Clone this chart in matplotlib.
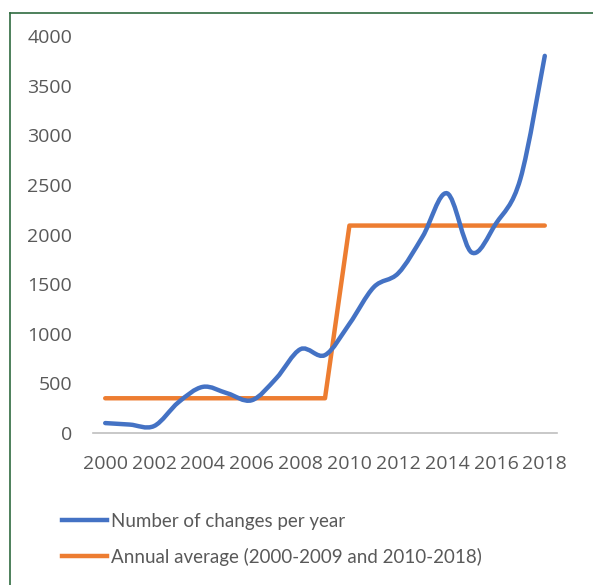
import numpy as np
import matplotlib
matplotlib.use("Agg")
import matplotlib.pyplot as plt
from matplotlib.path import Path
from matplotlib.patches import PathPatch
from matplotlib.lines import Line2D

plt.rcParams['font.family'] = ['Lato', 'DejaVu Sans']

years = list(range(2000, 2019))
changes = [100, 85, 70, 310, 465, 400, 330, 550, 845, 785,
           1100, 1470, 1610, 1980, 2415, 1820, 2110, 2560, 3800]
average = [350] * 10 + [2090] * 9
tick_years = list(range(2000, 2019, 2))

label_changes = "Number of changes per year"
label_average = "Annual average (2000-2009 and 2010-2018)"

blue = "#4472C4"
orange = "#ED7D31"
grey = "#595959"


# smooth line like the spreadsheet: cubic bezier through every point
def smooth_path(xs, ys, k=1 / 6):
    pts = np.column_stack([xs, ys]).astype(float)
    n = len(pts)
    verts = [pts[0]]
    codes = [Path.MOVETO]
    for i in range(n - 1):
        p0 = pts[max(i - 1, 0)]
        p1 = pts[i]
        p2 = pts[i + 1]
        p3 = pts[min(i + 2, n - 1)]
        c1 = p1 + (p2 - p0) * k
        c2 = p2 - (p3 - p1) * k
        verts += [c1, c2, p2]
        codes += [Path.CURVE4] * 3
    return Path(verts, codes)


fig = plt.figure(figsize=(5.93, 5.85), dpi=100)
ax = fig.add_axes([93 / 593, 1 - 433 / 585, (557 - 93) / 593, (433 - 36) / 585])

x_idx = np.arange(len(years))
ax.add_patch(PathPatch(smooth_path(x_idx, changes), fill=False,
                       edgecolor=blue, lw=3.2, capstyle='round', zorder=3))
ax.plot(x_idx, average, color=orange, lw=3.2, solid_capstyle='round', zorder=2)

ax.set_xlim(-0.5, len(years) - 0.5)
ax.set_ylim(0, 4000)
ax.set_yticks(range(0, 4001, 500))
ax.set_xticks([years.index(y) for y in tick_years])
ax.set_xticklabels([str(y) for y in tick_years])

for s in ['top', 'right', 'left']:
    ax.spines[s].set_visible(False)
ax.spines['bottom'].set_color('#BFBFBF')
ax.spines['bottom'].set_linewidth(1.2)
ax.tick_params(axis='both', length=0, labelsize=14, colors=grey)
ax.tick_params(axis='x', pad=16)
ax.tick_params(axis='y', pad=15)
for lab in ax.get_xticklabels() + ax.get_yticklabels():
    lab.set_family(['Open Sans', 'DejaVu Sans'])

handles = [Line2D([], [], color=blue, lw=3.2), Line2D([], [], color=orange, lw=3.2)]
fig.legend(handles, [label_changes, label_average], loc='upper left',
           bbox_to_anchor=(62 / 593, 1 - 513 / 585), frameon=False,
           borderpad=0, borderaxespad=0, handlelength=2.4, handletextpad=0.2,
           labelspacing=0.95, fontsize=13.5, labelcolor=grey)

# green frame around the picture (left and top edges visible)
frame = "#2F6B3F"
fig.add_artist(Line2D([10 / 593, 10 / 593], [0, 1 - 13 / 585], color=frame, lw=1.2))
fig.add_artist(Line2D([10 / 593, 1], [1 - 13 / 585, 1 - 13 / 585], color=frame, lw=1.2))

fig.savefig("out.png", dpi=100)
